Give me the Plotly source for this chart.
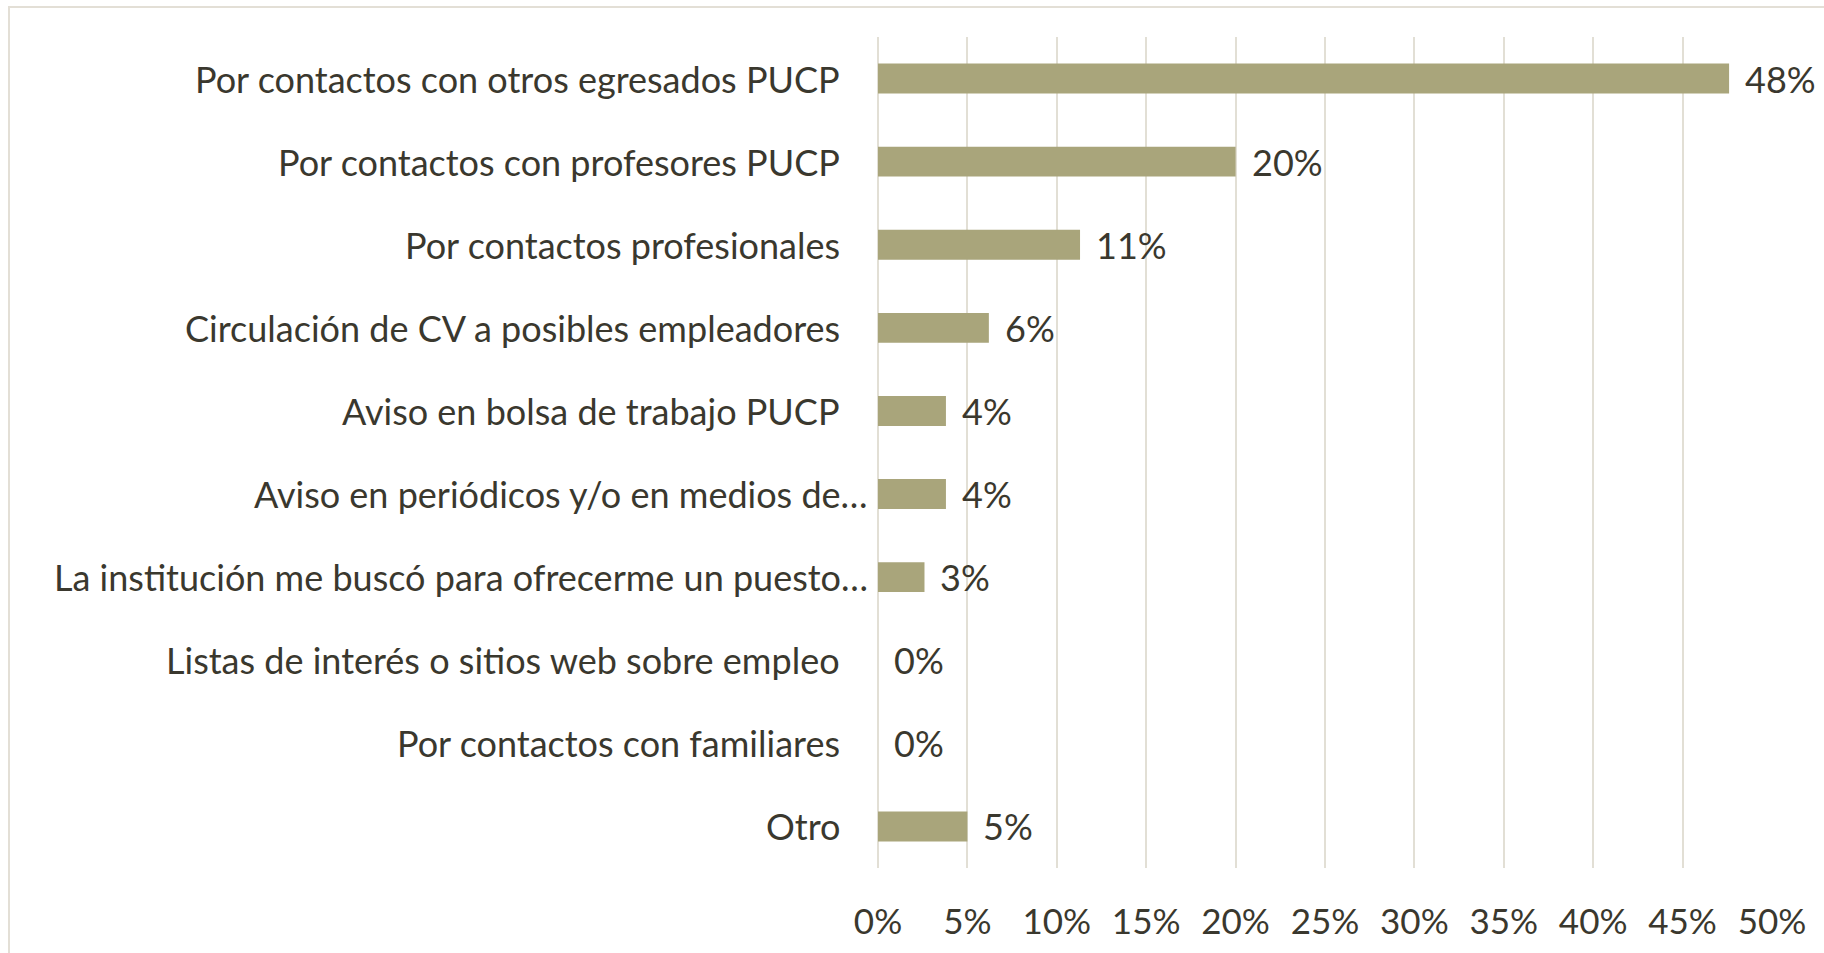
import plotly.graph_objects as go

categories = [
    "Por contactos con otros egresados PUCP",
    "Por contactos con profesores PUCP",
    "Por contactos profesionales",
    "Circulación de CV a posibles empleadores",
    "Aviso en bolsa de trabajo PUCP",
    "Aviso en periódicos y/o en medios de…",
    "La institución me buscó para ofrecerme un puesto…",
    "Listas de interés o sitios web sobre empleo",
    "Por contactos con familiares",
    "Otro",
]
values = [0.476, 0.200, 0.113, 0.062, 0.038, 0.038, 0.026, 0.0, 0.0, 0.050]
tick_vals = [0, 0.05, 0.10, 0.15, 0.20, 0.25, 0.30, 0.35, 0.40, 0.45, 0.50]

FONT = "Lato"
TXT = "#3a382e"
BAR = "#a9a57b"
GRID = "#e2dfd5"
FS = 36

fig = go.Figure(go.Bar(
    x=values, y=categories, orientation="h",
    marker=dict(color=BAR, line=dict(width=0)),
    hoverinfo="skip",
))

annotations = []
for c, v in zip(categories, values):
    annotations.append(dict(
        x=0, y=c, xref="x", yref="y", xanchor="right", yanchor="middle",
        xshift=-8 if c.endswith("…") else -36,
        text=c, showarrow=False, font=dict(family=FONT, size=FS, color=TXT),
    ))
    annotations.append(dict(
        x=v, y=c, xref="x", yref="y", xanchor="left", yanchor="middle",
        xshift=14, text=f"{v*100:.0f}%", showarrow=False,
        font=dict(family=FONT, size=FS, color=TXT),
    ))

fig.update_layout(
    width=1824, height=953,
    margin=dict(l=878, r=52, t=37, b=83),
    paper_bgcolor="white", plot_bgcolor="white",
    showlegend=False,
    bargap=0.64,
    annotations=annotations,
    font=dict(family=FONT, size=FS, color=TXT),
    xaxis=dict(
        range=[0, 0.5], tickvals=tick_vals, tickformat=".0%",
        showgrid=True, gridcolor=GRID, gridwidth=2,
        zeroline=True, zerolinecolor=GRID, zerolinewidth=2,
        showline=False, ticks="", ticklabelstandoff=30,
        tickfont=dict(family=FONT, size=35, color=TXT),
        fixedrange=True,
    ),
    yaxis=dict(
        categoryorder="array", categoryarray=categories[::-1],
        showticklabels=False, showgrid=False, zeroline=False, showline=False,
        fixedrange=True,
    ),
    shapes=[
        dict(type="rect", xref="paper", yref="paper",
             x0=(9 - 878) / 894, x1=1.2, y0=-0.2, y1=1 + 30 / 833,
             line=dict(color="#e3dfd6", width=2), fillcolor="rgba(0,0,0,0)",
             layer="below"),
    ],
)

fig.write_html(
    "out.html",
    config={"displayModeBar": False},
    post_script="document.body.style.margin='0';document.body.style.overflow='hidden';",
)
